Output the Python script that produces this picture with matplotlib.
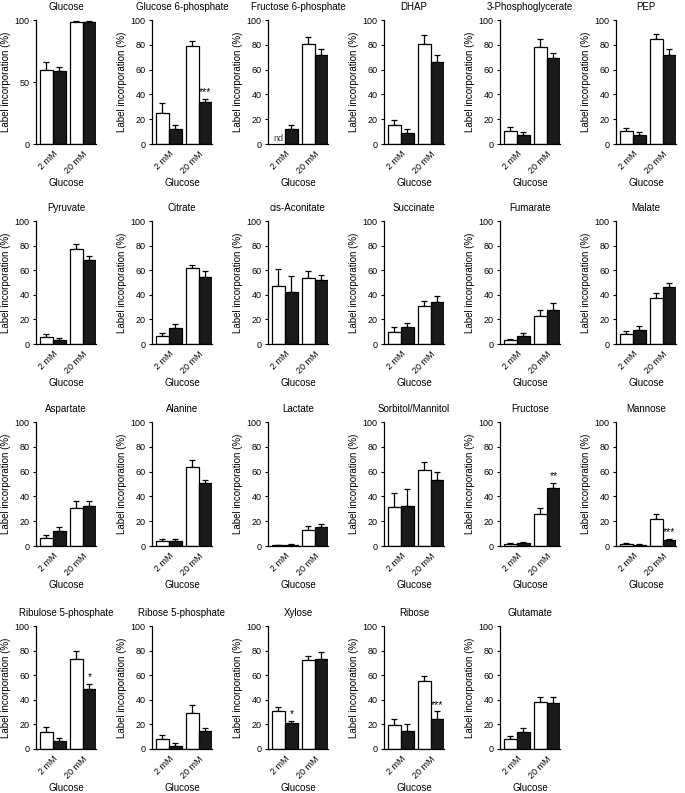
import numpy as np
import matplotlib
matplotlib.use("Agg")
import matplotlib.pyplot as plt

plt.rcParams['font.family'] = ['Liberation Sans', 'DejaVu Sans']
plt.rcParams['font.size'] = 6.5

# metabolites, in panel order
names = ["Glucose", "Glucose 6-phosphate", "Fructose 6-phosphate", "DHAP",
         "3-Phosphoglycerate", "PEP",
         "Pyruvate", "Citrate", "cis-Aconitate", "Succinate", "Fumarate", "Malate",
         "Aspartate", "Alanine", "Lactate", "Sorbitol/Mannitol", "Fructose", "Mannose",
         "Ribulose 5-phosphate", "Ribose 5-phosphate", "Xylose", "Ribose", "Glutamate"]

# mean label incorporation (%): open bars / filled bars, 2 mM and 20 mM glucose
open_2mm = [60, 25, np.nan, 15, 10.5, 10.5,
            6, 6.5, 47, 10, 3, 8.5,
            6.5, 4, 0.5, 31.5, 2, 1.5,
            14, 8.5, 31, 19.5, 8.5]
filled_2mm = [59, 12, 12, 9, 7, 7.5,
              3.5, 13, 42, 13.5, 6.5, 11.5,
              12, 4, 1, 32.5, 2.5, 0.8,
              6.5, 2.5, 21, 15, 14]
open_20mm = [98, 79, 81, 81, 78, 85,
             77, 62, 54, 31, 23, 37,
             31, 64, 13, 61, 26, 22,
             73, 29, 72.5, 55, 38.5]
filled_20mm = [98, 34, 72, 66, 69, 72,
               68, 54.5, 52, 34, 28, 46,
               32, 50.5, 15, 53.5, 47, 4.5,
               49, 14.5, 73, 24.5, 37]

# error bars (upper only)
err_open_2mm = [6, 8, 0, 4.5, 3, 2.5,
                2, 2.5, 14, 3.5, 1.2, 2,
                2, 1.5, 0.3, 11, 0.7, 0.7,
                3.5, 3, 3, 5, 2]
err_filled_2mm = [3, 3.5, 3.5, 3, 2.5, 2.5,
                  1.5, 3.5, 13, 3.5, 2.5, 3,
                  3, 1.5, 0.5, 13.5, 0.8, 0.5,
                  2.5, 2, 2, 5, 3]
err_open_20mm = [1, 4, 5, 7, 7, 4,
                 4, 2.5, 5, 4, 4.5, 4.5,
                 5, 5, 3.5, 6.5, 5, 3.5,
                 7, 7, 3.5, 4.5, 4]
err_filled_20mm = [1, 2.5, 5, 6, 4, 5,
                   3.5, 5, 4, 5, 5, 3.5,
                   4.5, 2.5, 2.5, 6.5, 4, 1.5,
                   4, 2.5, 6, 6, 5]

# significance marks: (panel, bar index) -> text
stars = {("Glucose 6-phosphate", 3): "***", ("Fructose", 3): "**",
         ("Mannose", 3): "***", ("Ribulose 5-phosphate", 3): "*",
         ("Xylose", 1): "*", ("Ribose", 3): "***"}

xpos = [0, 1, 2.3, 3.3]
group_centers = [0.5, 2.8]
group_labels = ["2 mM", "20 mM"]

fig = plt.figure(figsize=(6.85, 7.93), dpi=100)
W, H = 685.0, 793.0
row_tops = [20, 221, 422, 626]
row_bottoms = [144, 344, 546, 749]

for i, name in enumerate(names):
    r, c = divmod(i, 6)
    left = 36 + 116 * c
    ax = fig.add_axes([left / W, 1 - row_bottoms[r] / H, 60 / W,
                       (row_bottoms[r] - row_tops[r]) / H])
    vals = [open_2mm[i], filled_2mm[i], open_20mm[i], filled_20mm[i]]
    errs = [err_open_2mm[i], err_filled_2mm[i], err_open_20mm[i], err_filled_20mm[i]]
    colors = ["white", "#1a1a1a", "white", "#1a1a1a"]
    for x, v, e, col in zip(xpos, vals, errs, colors):
        if np.isnan(v):
            ax.text(x, 1, "nd", ha="center", va="bottom", fontsize=6.5, color="#333333")
            continue
        ax.bar(x, v, width=1, color=col, edgecolor="black", linewidth=0.9, zorder=2)
        ax.errorbar(x, v, yerr=[[0], [e]], fmt="none", ecolor="black",
                    elinewidth=0.9, capsize=2.5, capthick=0.9, zorder=1)
    for (pname, bi), s in stars.items():
        if pname == name:
            ax.text(xpos[bi], vals[bi] + errs[bi] + 1.5, s, ha="center",
                    va="bottom", fontsize=7.5)

    ax.set_xlim(-0.8, 3.8)
    ax.set_ylim(0, 100)
    if name == "Glucose":
        ax.set_yticks([0, 50, 100])
    else:
        ax.set_yticks([0, 20, 40, 60, 80, 100])
    ax.set_xticks(group_centers)
    ax.set_xticklabels(group_labels, rotation=45, ha="right", rotation_mode="anchor")
    ax.tick_params(axis="x", length=0, pad=4)
    ax.tick_params(axis="y", length=2.5, width=0.8, pad=2)
    for sp in ["top", "right"]:
        ax.spines[sp].set_visible(False)
    for sp in ["left", "bottom"]:
        ax.spines[sp].set_linewidth(0.9)
    ax.set_title(name, fontsize=7, pad=7)
    ax.set_xlabel("Glucose", fontsize=7, labelpad=2)
    ax.set_ylabel("Label incorporation (%)", fontsize=7, labelpad=3)

fig.savefig("out.png", dpi=100)
